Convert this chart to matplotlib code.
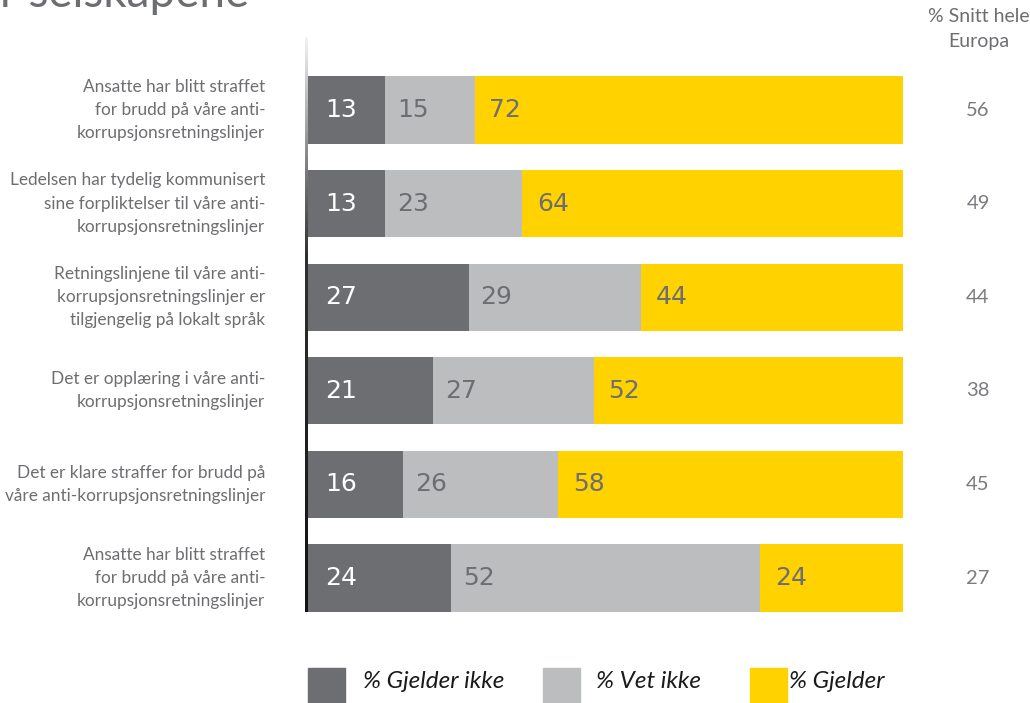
import numpy as np
import matplotlib.pyplot as plt
from matplotlib.patches import Rectangle
from matplotlib.colors import LinearSegmentedColormap

labels = [
    "Ansatte har blitt straffet\nfor brudd på våre anti-\nkorrupsjonsretningslinjer",
    "Ledelsen har tydelig kommunisert\nsine forpliktelser til våre anti-\nkorrupsjonsretningslinjer",
    "Retningslinjene til våre anti-\nkorrupsjonsretningslinjer er\ntilgjengelig på lokalt språk",
    "Det er opplæring i våre anti-\nkorrupsjonsretningslinjer",
    "Det er klare straffer for brudd på\nvåre anti-korrupsjonsretningslinjer",
    "Ansatte har blitt straffet\nfor brudd på våre anti-\nkorrupsjonsretningslinjer",
]
gjelder_ikke = [13, 13, 27, 21, 16, 24]
vet_ikke = [15, 23, 29, 27, 26, 52]
gjelder = [72, 64, 44, 52, 58, 24]
europa = [56, 49, 44, 38, 45, 27]
series_names = ["% Gjelder ikke", "% Vet ikke", "% Gjelder"]

DARK = "#6d6e71"
LIGHT = "#bcbdbf"
YELLOW = "#ffd200"
TXT = "#6d6e71"

W, H = 1030, 703
fig = plt.figure(figsize=(W / 100, H / 100), dpi=100)

# axes in pixel layout
ax_top, ax_bot = 40, 640
ax = fig.add_axes([308 / W, 1 - ax_bot / H, 595 / W, (ax_bot - ax_top) / H])
c0, step = 110, 93.6
ax.set_ylim((ax_bot - c0) / step, (ax_top - c0) / step)
ax.set_xlim(0, 100)
ax.axis("off")

y = np.arange(len(labels))
h = 0.72
ax.barh(y, gjelder_ikke, height=h, color=DARK)
left2 = np.array(gjelder_ikke)
ax.barh(y, vet_ikke, left=left2, height=h, color=LIGHT)
left3 = left2 + np.array(vet_ikke)
ax.barh(y, gjelder, left=left3, height=h, color=YELLOW)

for i in range(len(labels)):
    ax.text(2.9, i, str(gjelder_ikke[i]), color="white", fontsize=18,
            va="center", ha="left", family="DejaVu Sans")
    ax.text(left2[i] + 2.0, i, str(vet_ikke[i]), color=TXT, fontsize=18,
            va="center", ha="left", family="DejaVu Sans")
    ax.text(left3[i] + 2.5, i, str(gjelder[i]), color=TXT, fontsize=18,
            va="center", ha="left", family="DejaVu Sans")
    ax.text(-7.2, i, labels[i], color=TXT, fontsize=12.4, ha="right",
            va="center", linespacing=1.55, family="Lato", clip_on=False)
    ax.text(112.6, i, str(europa[i]), color="#7a7b7e", fontsize=14.5,
            ha="center", va="center", family="Lato", clip_on=False)

# gradient vertical axis line
cmap = LinearSegmentedColormap.from_list(
    "axisline", [(0, "#f2f2f2"), (0.17, "#9a9a9a"), (0.38, "#303030"), (1, "#111111")])
lax = fig.add_axes([305 / W, 1 - 612 / H, 3 / W, (612 - 37) / H])
lax.imshow(np.linspace(0, 1, 200).reshape(-1, 1), cmap=cmap, aspect="auto")
lax.axis("off")

fig.text(979 / W, 1 - 16 / H, "% Snitt hele", color=TXT, fontsize=14,
         ha="center", va="center", family="Lato")
fig.text(979 / W, 1 - 42 / H, "Europa", color=TXT, fontsize=14,
         ha="center", va="center", family="Lato")

# cut-off title
fig.text(0 / W, 1 - 7 / H, "r selskapene", color=TXT, fontsize=33,
         ha="left", va="baseline", family="Lato")

# legend
leg = [(308, 363), (543, 596), (750, 789)]
for (sx, tx), name, c in zip(leg, series_names, [DARK, LIGHT, YELLOW]):
    fig.patches.append(Rectangle((sx / W, 1 - 706 / H), 37 / W, 38 / H,
                                 transform=fig.transFigure, color=c))
    fig.text(tx / W, 1 - 682 / H, name, fontsize=17.5, style="italic",
             color="#1a1a1a", ha="left", va="center", family="Lato")

fig.savefig("out.png", dpi=100)
